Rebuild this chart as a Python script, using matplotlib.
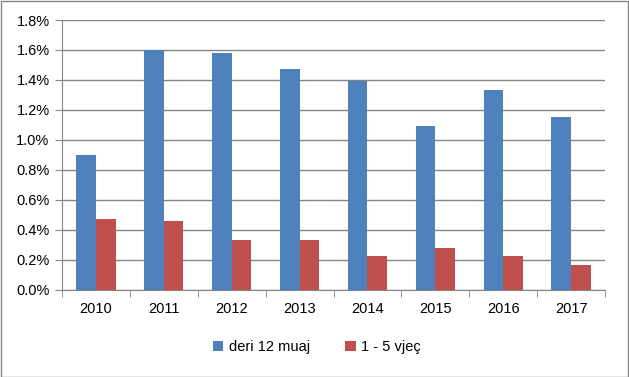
import matplotlib
matplotlib.use('Agg')
import matplotlib.pyplot as plt
from matplotlib.patches import Rectangle
from matplotlib.ticker import FuncFormatter, MultipleLocator
import numpy as np

years = ['2010', '2011', '2012', '2013', '2014', '2015', '2016', '2017']
deri_12 = [0.90, 1.60, 1.58, 1.47, 1.39, 1.09, 1.33, 1.15]
vjec_1_5 = [0.47, 0.456, 0.33, 0.33, 0.222, 0.276, 0.222, 0.163]

plt.rcParams['font.family'] = ['Liberation Sans', 'DejaVu Sans']
plt.rcParams['font.size'] = 10.5

grid_c = '#868686'
fig = plt.figure(figsize=(6.29, 3.77), dpi=100)
ax = fig.add_axes([62/629, 1 - 289.5/377, (605-62)/629, (289.5-20)/377])

x = np.arange(len(years))
w = 0.29
ax.bar(x - w/2, deri_12, w, color='#4F81BD', label='deri 12 muaj', zorder=3)
ax.bar(x + w/2, vjec_1_5, w, color='#C0504D', label='1 - 5 vjeç', zorder=3)

ax.set_xlim(-0.5, len(years) - 0.5)
ax.set_ylim(0, 1.8)
ax.yaxis.set_major_locator(MultipleLocator(0.2))
ax.yaxis.set_major_formatter(FuncFormatter(lambda v, p: '%.1f%%' % v))
ax.set_xticks(x)
ax.set_xticklabels(years)
ax.set_xticks(np.arange(-0.5, len(years)), minor=True)
ax.tick_params(axis='x', which='major', length=0, pad=9)
ax.tick_params(axis='x', which='minor', length=5, color=grid_c)
ax.tick_params(axis='y', length=5, color=grid_c, pad=4)
ax.grid(axis='y', color=grid_c, linewidth=1, zorder=0)
for s in ['top', 'right']:
    ax.spines[s].set_visible(False)
for s in ['left', 'bottom']:
    ax.spines[s].set_color(grid_c)

ax.legend(loc='center', bbox_to_anchor=(0.47, -0.215), ncol=2, frameon=False,
          handlelength=0.7, handleheight=0.7, handletextpad=0.4, columnspacing=2.4)

fig.patches.append(Rectangle((0.5/629, 0.5/377), 1 - 1.5/629, 1 - 1.5/377,
                             transform=fig.transFigure, fill=False,
                             edgecolor=grid_c, linewidth=1))

fig.savefig('out.png', dpi=100)
